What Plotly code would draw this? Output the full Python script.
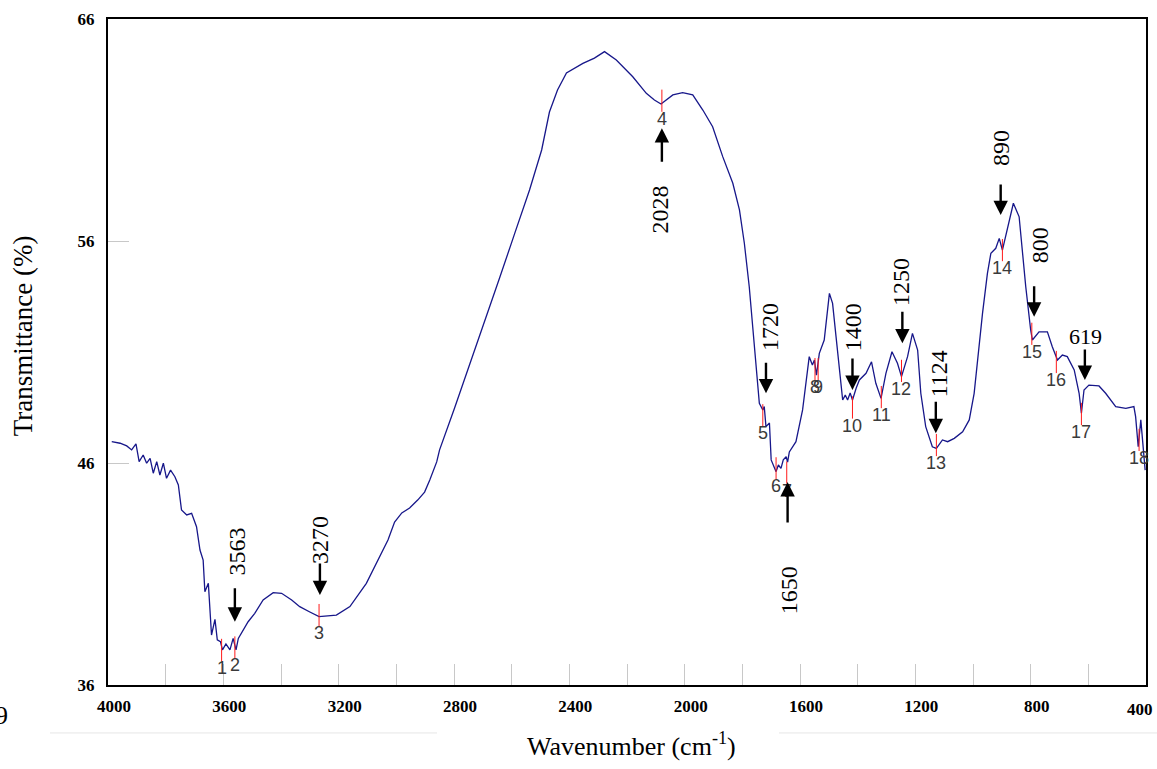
import plotly.graph_objects as go

# ---- spectrum (wavenumber cm-1, transmittance %) ----
wavenumber = [3987, 3958, 3935, 3918, 3903, 3892, 3878, 3866, 3854, 3843, 3831, 3820, 3808, 3797,
              3783, 3768, 3756, 3745, 3727, 3710, 3693, 3681, 3670, 3664, 3652, 3644, 3641, 3629,
              3621, 3610, 3603, 3591, 3577, 3566, 3556, 3548, 3531, 3514, 3491, 3462, 3427, 3398,
              3363, 3335, 3300, 3268, 3208, 3161, 3104, 3046, 3029, 3006, 2981, 2954, 2926, 2902,
              2884, 2860, 2850, 2798, 2746, 2694, 2642, 2590, 2538, 2496, 2469, 2441, 2410, 2353,
              2313, 2278, 2237, 2180, 2133, 2105, 2082, 2041, 2007, 1972, 1937, 1903, 1868, 1833,
              1810, 1793, 1776, 1764, 1752, 1741, 1729, 1724, 1718, 1706, 1700, 1683, 1675, 1666,
              1658, 1648, 1643, 1637, 1614, 1591, 1568, 1557, 1550, 1543, 1533, 1516, 1498, 1487,
              1475, 1464, 1452, 1443, 1435, 1426, 1418, 1405, 1394, 1371, 1352, 1337, 1319, 1302,
              1281, 1262, 1248, 1227, 1210, 1192, 1181, 1164, 1141, 1127, 1106, 1088, 1065, 1036,
              1013, 996, 979, 967, 950, 938, 921, 909, 898, 880, 860, 840, 829, 817, 800, 794, 771,
              742, 725, 707, 690, 673, 649, 632, 624, 615, 598, 563, 540, 505, 470, 442, 436, 427,
              418, 409, 403]
transmittance = [46.96, 46.89, 46.77, 46.59, 46.86, 46.06, 46.36, 45.99, 46.21, 45.54, 46.06, 45.46,
                 45.99, 45.31, 45.68, 45.38, 45.01, 43.88, 43.66, 43.73, 43.13, 42.08, 41.63, 40.20,
                 40.58, 38.93, 38.25, 38.96, 38.03, 37.95, 37.58, 37.85, 37.58, 38.10, 37.58, 38.10,
                 38.48, 38.85, 39.23, 39.83, 40.16, 40.13, 39.83, 39.53, 39.29, 39.08, 39.15, 39.53,
                 40.58, 42.08, 42.53, 43.34, 43.75, 43.97, 44.33, 44.69, 45.23, 46.05, 46.59, 48.48,
                 50.41, 52.35, 54.33, 56.32, 58.30, 60.10, 61.81, 62.80, 63.57, 64.00, 64.24, 64.53,
                 64.15, 63.40, 62.65, 62.35, 62.17, 62.58, 62.68, 62.58, 61.90, 61.15, 59.80, 58.60,
                 57.40, 55.90, 53.94, 52.14, 50.19, 48.69, 48.39, 48.54, 47.64, 47.80, 46.14, 45.61,
                 45.91, 45.76, 46.14, 46.28, 46.04, 46.50, 46.96, 48.39, 50.79, 50.41, 50.64, 49.96,
                 50.94, 51.54, 53.64, 53.19, 51.69, 50.19, 48.84, 49.06, 48.84, 49.15, 48.84, 49.38,
                 49.74, 50.04, 50.56, 49.59, 48.91, 50.04, 51.01, 50.49, 49.89, 50.79, 51.84, 51.09,
                 49.14, 47.64, 46.73, 46.66, 47.04, 46.96, 47.11, 47.41, 47.94, 49.14, 51.39, 52.74,
                 54.54, 55.45, 55.67, 56.12, 55.59, 56.64, 57.70, 57.09, 55.59, 53.94, 51.99, 51.54,
                 51.91, 51.91, 51.24, 50.64, 50.86, 50.79, 50.19, 49.14, 48.24, 49.29, 49.51, 49.47,
                 49.14, 48.54, 48.46, 48.54, 48.09, 46.73, 47.94, 46.73, 45.68]

# ---- software peak picks ----
peak_labels = ["1", "2", "3", "4", "5", "6", "7", "8", "9", "10", "11", "12", "13", "14", "15",
               "16", "17", "18"]
peak_wn = [3606, 3560, 3268, 2079, 1729, 1683, 1646, 1548, 1537, 1418, 1318, 1248, 1127, 898,
           796, 711, 624, 424]
peak_t = [37.58, 37.69, 39.15, 62.32, 48.15, 45.76, 45.57, 50.23, 50.23, 48.50, 48.97, 50.15,
          46.81, 55.59, 51.82, 50.55, 48.21, 47.04]

# ---- author's arrow annotations ----
band_text = ["3563", "3270", "2028", "1720", "1650", "1400", "1250", "1124", "890", "800", "619"]
band_text_wn = [3554, 3265, 2087, 1704, 1637, 1415, 1250, 1117, 903, 767, 611]
band_text_t = [41.99, 42.53, 57.40, 52.13, 40.28, 52.13, 54.15, 50.01, 60.19, 55.82, 51.72]
band_vertical = [True, True, True, True, True, True, True, True, True, True, False]
arrow_wn = [3560, 3265, 2079, 1718, 1643, 1418, 1245, 1129, 904, 788, 612]
arrow_t = [38.85, 40.05, 61.08, 49.14, 45.14, 49.29, 51.39, 47.34, 57.17, 52.59, 49.74]
arrow_tail = [-35, -33, 35, -32, 42, -33, -33, -33, -32, -32, -32]

x_ticks = list(range(400, 4001, 200))
x_last_label = 400
x_ticktext = [str(v) if (v % 400 == 0 and v != x_last_label) else "" for v in x_ticks]
y_ticks = [36, 46, 56, 66]

SERIF = "Liberation Serif, Times New Roman, serif"
TICKFONT = dict(family=SERIF, size=17, color="black", weight="bold")

fig = go.Figure()
fig.add_trace(go.Scatter(x=wavenumber, y=transmittance, mode="lines",
                         line=dict(color="#17178a", width=1.3), hoverinfo="skip",
                         showlegend=False))

# red peak ticks
rx, ry = [], []
for w, t in zip(peak_wn, peak_t):
    rx += [w, w, None]
    ry += [t + 0.5, t - 0.5, None]
fig.add_trace(go.Scatter(x=rx, y=ry, mode="lines", line=dict(color="#ff1a1a", width=1),
                         hoverinfo="skip", showlegend=False))

annotations = []
for lab, w, t in zip(peak_labels, peak_wn, peak_t):
    annotations.append(dict(x=w, y=t, xref="x", yref="y", text=lab, showarrow=False,
                            yshift=-18, font=dict(family="Liberation Sans Narrow, Liberation Sans, Arial",
                                                  size=18, color="#3a3a3a")))
for txt, w, t, vert in zip(band_text, band_text_wn, band_text_t, band_vertical):
    annotations.append(dict(x=w, y=t, xref="x", yref="y", text=txt, showarrow=False,
                            textangle=-90 if vert else 0,
                            font=dict(family=SERIF, size=24 if vert else 22, color="black")))
for w, t, tail in zip(arrow_wn, arrow_t, arrow_tail):
    annotations.append(dict(x=w, y=t, xref="x", yref="y", text="", showarrow=True,
                            arrowhead=2, arrowsize=1.2, arrowwidth=2.4, arrowcolor="black",
                            ax=0, ay=tail, standoff=0))

# last x tick label (kept inside the page like the reference)
annotations.append(dict(x=x_last_label, y=0, xref="x", yref="paper", text=str(x_last_label),
                        xanchor="right", yanchor="top", yshift=-13, xshift=9, showarrow=False,
                        font=TICKFONT))

# axis titles
annotations.append(dict(x=0.5048, y=-0.090, xref="paper", yref="paper",
                        xanchor="center", yanchor="middle",
                        text="Wavenumber (cm<sup>-1</sup>)", showarrow=False,
                        font=dict(family=SERIF, size=26, color="black")))
annotations.append(dict(x=-0.0819, y=0.525, xref="paper", yref="paper",
                        xanchor="center", yanchor="middle",
                        text="Transmittance (%)", textangle=-90, showarrow=False,
                        font=dict(family=SERIF, size=27, color="black")))
annotations.append(dict(x=-0.0944, y=-0.0465, xref="paper", yref="paper",
                        xanchor="right", yanchor="middle",
                        text="9", showarrow=False,
                        font=dict(family=SERIF, size=26, color="black")))

shapes = [
    dict(type="line", xref="paper", yref="paper", x0=-0.0559, x1=0.317, y0=-0.072, y1=-0.072,
         line=dict(color="#e6e6e6", width=1)),
    dict(type="line", xref="paper", yref="paper", x0=0.6464, x1=1.011, y0=-0.072, y1=-0.072,
         line=dict(color="#e6e6e6", width=1)),
]

fig.update_layout(
    width=1157, height=769,
    margin=dict(l=108, r=11, t=19, b=84, autoexpand=False),
    plot_bgcolor="white", paper_bgcolor="white",
    showlegend=False,
    annotations=annotations,
    shapes=shapes,
    xaxis=dict(range=[4000, 400], tickvals=x_ticks, ticktext=x_ticktext, automargin=False,
               ticks="inside", ticklen=21, tickwidth=1, tickcolor="#c8c8c8",
               showline=True, linecolor="black", linewidth=2, mirror=True,
               showgrid=False, zeroline=False, ticklabelstandoff=5, ticklabelshift=-6,
               ticklabeloverflow="allow", tickfont=TICKFONT),
    yaxis=dict(range=[36, 66], tickvals=y_ticks, automargin=False,
               ticks="inside", ticklen=21, tickwidth=1, tickcolor="#c8c8c8",
               showline=True, linecolor="black", linewidth=2, mirror=True,
               showgrid=False, zeroline=False, ticklabelstandoff=8,
               tickfont=TICKFONT),
)

fig.write_html("out.html")
